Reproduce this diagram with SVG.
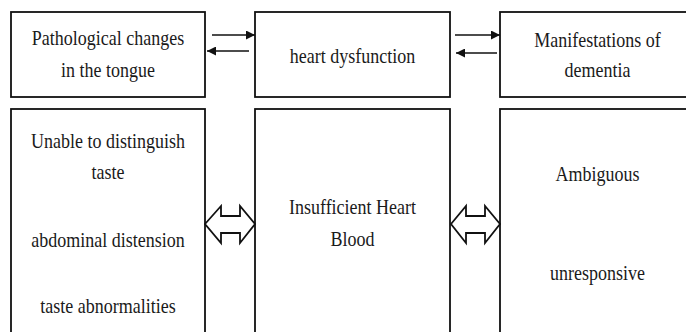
<svg xmlns="http://www.w3.org/2000/svg" width="686" height="332" viewBox="0 0 686 332">
<style>
.box{fill:#fff;stroke:#111;stroke-width:1.8}
.ln{stroke:#111;stroke-width:1.6;fill:none}
.blk{fill:#fff;stroke:#111;stroke-width:1.8;stroke-linejoin:miter}
</style>
<defs>
<marker id="ah" viewBox="0 0 10 10" refX="10" refY="5" markerWidth="9" markerHeight="9" markerUnits="userSpaceOnUse" orient="auto">
<path d="M0,0 L10,5 L0,10 Z" fill="#111"/>
</marker>
</defs>
<rect width="686" height="332" fill="#fff"/>
<g id="n1"><rect class="box" x="11" y="12" width="194" height="85"/>
<text transform="translate(108,45) scale(1,1.22)" font-family="Liberation Serif" font-size="18" fill="#1a1a1a" text-anchor="middle">Pathological changes</text>
<text transform="translate(108,77) scale(1,1.22)" font-family="Liberation Serif" font-size="18" fill="#1a1a1a" text-anchor="middle">in the tongue</text></g>
<g id="n2"><rect class="box" x="255" y="12" width="195" height="85"/>
<text transform="translate(352.5,63) scale(1,1.22)" font-family="Liberation Serif" font-size="18" fill="#1a1a1a" text-anchor="middle">heart dysfunction</text></g>
<g id="n3"><rect class="box" x="500" y="12" width="195" height="85"/>
<text transform="translate(597.5,47) scale(1,1.22)" font-family="Liberation Serif" font-size="18" fill="#1a1a1a" text-anchor="middle">Manifestations of</text>
<text transform="translate(597.5,77) scale(1,1.22)" font-family="Liberation Serif" font-size="18" fill="#1a1a1a" text-anchor="middle">dementia</text></g>
<g id="n4"><rect class="box" x="11" y="109" width="194" height="240"/>
<text transform="translate(108,148) scale(1,1.22)" font-family="Liberation Serif" font-size="18" fill="#1a1a1a" text-anchor="middle">Unable to distinguish</text>
<text transform="translate(108,179) scale(1,1.22)" font-family="Liberation Serif" font-size="18" fill="#1a1a1a" text-anchor="middle">taste</text>
<text transform="translate(108,247) scale(1,1.22)" font-family="Liberation Serif" font-size="18" fill="#1a1a1a" text-anchor="middle">abdominal distension</text>
<text transform="translate(108,313) scale(1,1.22)" font-family="Liberation Serif" font-size="18" fill="#1a1a1a" text-anchor="middle">taste abnormalities</text></g>
<g id="n5"><rect class="box" x="255" y="109" width="195" height="240"/>
<text transform="translate(352.5,214) scale(1,1.22)" font-family="Liberation Serif" font-size="18" fill="#1a1a1a" text-anchor="middle">Insufficient Heart</text>
<text transform="translate(352.5,246) scale(1,1.22)" font-family="Liberation Serif" font-size="18" fill="#1a1a1a" text-anchor="middle">Blood</text></g>
<g id="n6"><rect class="box" x="500" y="109" width="195" height="240"/>
<text transform="translate(597.5,181) scale(1,1.22)" font-family="Liberation Serif" font-size="18" fill="#1a1a1a" text-anchor="middle">Ambiguous</text>
<text transform="translate(597.5,280) scale(1,1.22)" font-family="Liberation Serif" font-size="18" fill="#1a1a1a" text-anchor="middle">unresponsive</text></g>
<g id="connectors">
<line class="ln" x1="212" y1="35" x2="255" y2="35" marker-end="url(#ah)"/>
<line class="ln" x1="249" y1="51" x2="207" y2="51" marker-end="url(#ah)"/>
<line class="ln" x1="455" y1="35" x2="500" y2="35" marker-end="url(#ah)"/>
<line class="ln" x1="497" y1="53" x2="456" y2="53" marker-end="url(#ah)"/>
<polygon class="blk" points="205,224 221,206 221,216 240,216 240,206 255,224 240,243 240,233 221,233 221,243"/>
<polygon class="blk" points="451,224 466,206 466,216 485,216 485,206 500,224 485,243 485,233 466,233 466,243"/>
</g>
</svg>
